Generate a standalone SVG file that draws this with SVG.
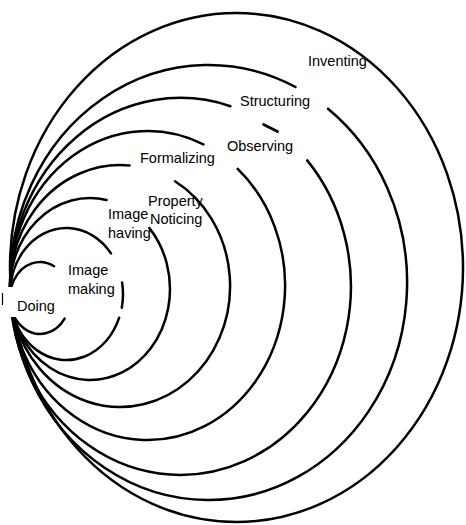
<svg xmlns="http://www.w3.org/2000/svg" width="466" height="525" viewBox="0 0 466 525">
  <style>
    .ring { fill: none; stroke: #000; stroke-width: 2.5; stroke-linecap: round; }
    .lbl { font-family: "Liberation Sans", Arial, Helvetica, sans-serif; font-size: 14.5px; fill: #000; }
  </style>
  <rect width="466" height="525" fill="#fff"/>

  <!-- nested rings, all meeting at the left, outermost first -->
  <g id="inventing">
    <ellipse class="ring" cx="236.5" cy="267.5" rx="226.5" ry="254.5"/>
    <text class="lbl" x="308" y="65.5">Inventing</text>
  </g>

  <g id="structuring">
    <path class="ring" d="M328.0,108.8 A198.5,217.5 0 1 1 295.5,87.0"/>
    <text class="lbl" x="240" y="105.5">Structuring</text>
  </g>

  <g id="observing">
    <path class="ring" d="M307.2,160.4 A170.5,188.5 0 1 1 230.4,106.2"/>
    <path class="ring" d="M263.5,124.5 L277.5,131.5" style="stroke-width:2.8"/>
    <text class="lbl" x="227" y="151">Observing</text>
  </g>

  <g id="formalizing">
    <path class="ring" d="M237.7,168.9 A137.5,154.5 0 1 1 203.4,144.4"/>
    <text class="lbl" x="140" y="163">Formalizing</text>
  </g>

  <g id="property-noticing">
    <path class="ring" d="M175.0,181.2 A110,121 0 1 1 129.6,165.5"/>
    <text class="lbl" x="148" y="205.5">Property</text>
    <text class="lbl" x="150" y="224">Noticing</text>
  </g>

  <g id="image-having">
    <path class="ring" d="M149.4,228.1 A80,91 0 1 1 106.6,200.0"/>
    <text class="lbl" x="108" y="219">Image</text>
    <text class="lbl" x="108" y="237.5">having</text>
  </g>

  <g id="image-making">
    <path class="ring" d="M119.2,317.7 A56.5,66 0 1 1 111.0,253.4"/>
    <path class="ring" d="M122.1,282.5 A56.5,66 0 0 1 121.8,307.7"/>
    <text class="lbl" x="68" y="275">Image</text>
    <text class="lbl" x="68" y="293.5">making</text>
  </g>

  <g id="doing">
    <path class="ring" d="M64.6,318.6 A30,36 0 1 1 54.1,266.2"/>
    <!-- label patch over the meeting point of the rings -->
    <rect x="4" y="287" width="56" height="30" fill="#fff"/>
    <line x1="2.5" y1="293" x2="2.5" y2="305" stroke="#000" stroke-width="1.2"/>
    <text class="lbl" x="17" y="311">Doing</text>
  </g>
</svg>
